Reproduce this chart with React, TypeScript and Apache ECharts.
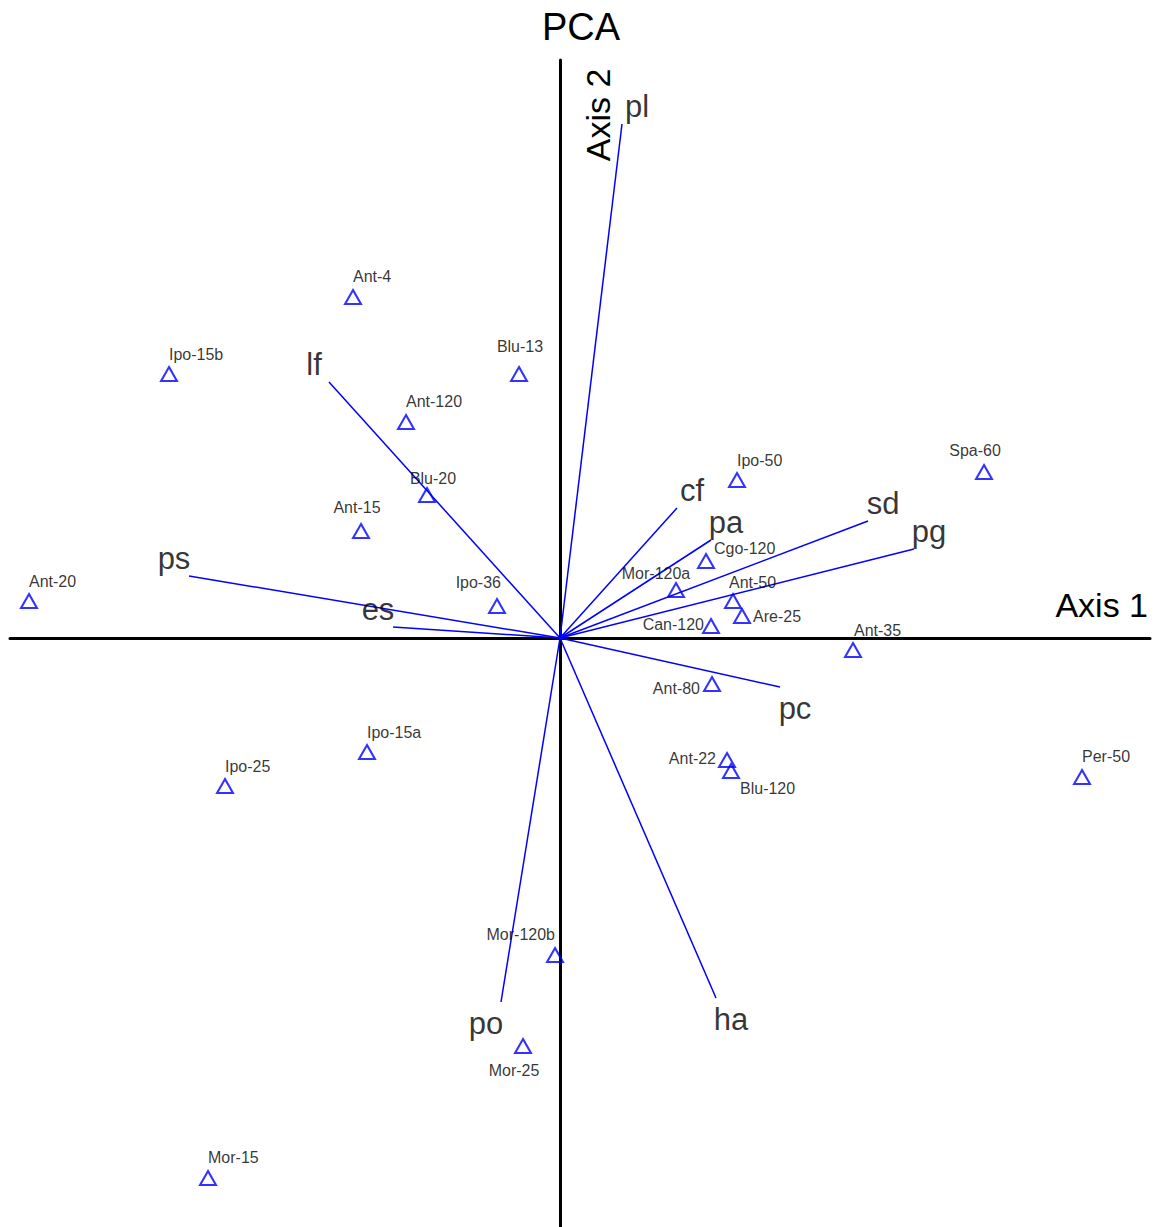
import React, { useEffect, useRef } from "react";
import * as echarts from "echarts";

// Sample scores (Axis 1, Axis 2)
const sampleNames = [
  "Ant-4", "Ipo-15b", "Blu-13", "Ant-120", "Blu-20", "Ant-15", "Ant-20", "Ipo-36",
  "Ipo-50", "Spa-60", "Cgo-120", "Mor-120a", "Ant-50", "Are-25", "Can-120", "Ant-35",
  "Ant-80", "Ant-22", "Blu-120", "Per-50", "Ipo-15a", "Ipo-25", "Mor-120b", "Mor-25", "Mor-15",
];
const sampleAxis1 = [
  -2.07, -3.91, -0.41, -1.54, -1.33, -1.99, -5.31, -0.63,
  1.77, 4.24, 1.46, 1.16, 1.73, 1.82, 1.51, 2.93,
  1.52, 1.67, 1.71, 5.22, -1.93, -3.35, -0.05, -0.37, -3.52,
];
const sampleAxis2 = [
  3.41, 2.64, 2.64, 2.16, 1.43, 1.07, 0.37, 0.32,
  1.58, 1.66, 0.77, 0.48, 0.37, 0.22, 0.12, -0.12,
  -0.46, -1.22, -1.33, -1.39, -1.14, -1.48, -3.17, -4.08, -5.40,
];

// Variable loadings (biplot vectors)
const varNames = ["pl", "lf", "ps", "es", "cf", "pa", "sd", "pg", "pc", "po", "ha"];
const varAxis1 = [0.62, -2.31, -3.71, -1.67, 1.17, 1.51, 3.08, 3.54, 2.2, -0.59, 1.56];
const varAxis2 = [5.14, 2.56, 0.62, 0.11, 1.3, 0.98, 1.17, 0.89, -0.49, -3.64, -3.6];

// Label placement (style only): [align, dx, dy]
const sampleLabelPlacement: [string, number, number][] = [
  ["left", 0, -21], ["left", 0, -20], ["center", 1, -28], ["left", 0, -21],
  ["center", 6, -17], ["center", -4, -24], ["left", 0, -20], ["right", 4, -24],
  ["left", 0, -20], ["center", -9, -22], ["left", 8, -13], ["center", -20, -17],
  ["left", -4, -19], ["left", 11, 0], ["right", -7, -2], ["left", 1, -20],
  ["right", -12, 4], ["right", -11, -2], ["left", 9, 17], ["left", 0, -21],
  ["left", 0, -20], ["left", 0, -20], ["right", 0, -21], ["center", -9, 24], ["left", 0, -21],
];

const X_MIN = -5.5, X_MAX = 5.9, Y_MIN = -5.89, Y_MAX = 5.78;

export default function App() {
  const ref = useRef<HTMLDivElement>(null);
  useEffect(() => {
    if (!ref.current) return;
    const chart = echarts.init(ref.current, undefined, { renderer: "svg" });
    const blue = "#0000ff";

    const sampleData = sampleNames.map((n, i) => {
      const [align, dx, dy] = sampleLabelPlacement[i];
      return {
        name: n,
        value: [sampleAxis1[i], sampleAxis2[i]],
        label: { align, offset: [dx, dy] },
      };
    });

    const vecLines = varNames.map((n, i) => ({
      coords: [[0, 0], [varAxis1[i], varAxis2[i]]],
    }));

    const vecLabels = varNames.map((n, i) => {
      const sx = varAxis1[i] >= 0 ? 1 : -1;
      const sy = varAxis2[i] >= 0 ? 1 : -1;
      return {
        name: n,
        value: [varAxis1[i], varAxis2[i]],
        label: { offset: [sx * 15, sy > 0 ? -18 : 21] },
      };
    });

    chart.setOption({
      animation: false,
      backgroundColor: "#ffffff",
      grid: { left: 10, right: 4, top: 60, bottom: 0, containLabel: false },
      xAxis: {
        type: "value",
        min: X_MIN,
        max: X_MAX,
        axisLine: { onZero: true, lineStyle: { color: "#000", width: 3 } },
        axisTick: { show: false },
        axisLabel: { show: false },
        splitLine: { show: false },
      },
      yAxis: {
        type: "value",
        min: Y_MIN,
        max: Y_MAX,
        axisLine: { onZero: true, lineStyle: { color: "#000", width: 3 } },
        axisTick: { show: false },
        axisLabel: { show: false },
        splitLine: { show: false },
      },
      graphic: [
        {
          type: "text",
          x: 581,
          y: 27,
          style: {
            text: "PCA",
            font: "38px 'Liberation Sans', Arial, sans-serif",
            fill: "#000",
            align: "center",
            verticalAlign: "middle",
          },
        },
        {
          type: "text",
          x: 1148,
          y: 605,
          style: {
            text: "Axis 1",
            font: "34px 'Liberation Sans', Arial, sans-serif",
            fill: "#000",
            align: "right",
            verticalAlign: "middle",
          },
        },
        {
          type: "text",
          x: 598,
          y: 115,
          rotation: Math.PI / 2,
          style: {
            text: "Axis 2",
            font: "34px 'Liberation Sans', Arial, sans-serif",
            fill: "#000",
            align: "center",
            verticalAlign: "middle",
          },
        },
      ],
      series: [
        {
          type: "lines",
          coordinateSystem: "cartesian2d",
          polyline: false,
          symbol: "none",
          silent: true,
          lineStyle: { color: blue, width: 1.5, opacity: 1 },
          data: vecLines,
          z: 3,
        },
        {
          type: "scatter",
          symbol: "circle",
          symbolSize: 0,
          silent: true,
          data: vecLabels,
          label: {
            show: true,
            position: "inside",
            formatter: "{b}",
            color: "#000",
            fontSize: 31,
            fontFamily: "'Liberation Sans', Arial, sans-serif",
            align: "center",
            verticalAlign: "middle",
          },
          z: 4,
        },
        {
          type: "scatter",
          symbol: "triangle",
          symbolSize: [16, 14],
          silent: true,
          itemStyle: { color: "rgba(255,255,255,0)", borderColor: blue, borderWidth: 2 },
          data: sampleData,
          label: {
            show: true,
            position: "inside",
            formatter: "{b}",
            color: "#000",
            fontSize: 16,
            fontFamily: "'Liberation Sans', Arial, sans-serif",
            verticalAlign: "middle",
          },
          z: 5,
        },
      ],
    });
    return () => chart.dispose();
  }, []);
  return (
    <div
      ref={ref}
      style={{ position: "absolute", left: 0, top: 0, width: 1154, height: 1227 }}
    />
  );
}
